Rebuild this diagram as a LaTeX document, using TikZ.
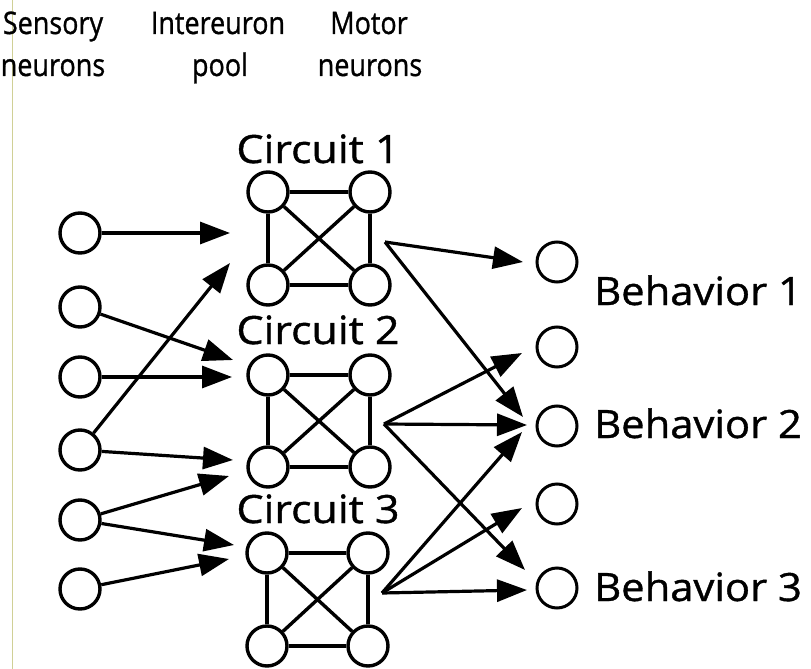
\documentclass[tikz,border=0pt]{standalone}
\usepackage{fontspec}
\setmainfont{Open Sans}
\newfontfamily\labelfont[FakeBold=1]{Open Sans}
\usetikzlibrary{arrows.meta}
\begin{document}
\begin{tikzpicture}[x=1pt,y=-1pt,
  neuron/.style={circle,draw,line width=3.4pt,minimum size=40pt,inner sep=0pt},
  motor/.style={circle,draw,line width=3pt,minimum size=40pt,inner sep=0pt},
  link/.style={line width=3.4pt},
  arr/.style={line width=3.2pt,-{Triangle[length=30pt,width=22pt]}},
  header/.style={inner sep=0pt,anchor=base,font=\labelfont\fontsize{31}{31}\selectfont},
  label/.style={inner sep=0pt,font=\labelfont\fontsize{39}{39}\selectfont}]
\useasboundingbox (0,0) rectangle (811,669);
% thin rule along the left edge
\draw[line width=1pt,color={rgb,255:red,208;green,208;blue,150}] (12.5,0) -- (12.5,669);

% column headings
\node[header] (h1) at (53,34) {\scalebox{0.87}[1]{Sensory}};
\node[header] (h2) at (53,76) {\scalebox{0.87}[1]{neurons}};
\node[header] (h3) at (218,34) {\scalebox{0.87}[1]{Intereuron}};
\node[header] (h4) at (220,76) {\scalebox{0.87}[1]{pool}};
\node[header] (h5) at (369,34) {\scalebox{0.87}[1]{Motor}};
\node[header] (h6) at (370,76) {\scalebox{0.87}[1]{neurons}};

% sensory neurons
\foreach \i/\y in {1/233,2/307,3/377,4/450,5/520,6/589}
  \node[neuron] (s\i) at (80,\y) {};

% interneuron circuits
\foreach \c/\yt/\yb/\xl/\xr in {1/192/285/268/370,2/375/467/268/370,3/553/646/267/368}{
  \node[neuron] (c\c1) at (\xl,\yt) {};
  \node[neuron] (c\c2) at (\xr,\yt) {};
  \node[neuron] (c\c3) at (\xl,\yb) {};
  \node[neuron] (c\c4) at (\xr,\yb) {};
  \draw[link] (c\c1) -- (c\c2);
  \draw[link] (c\c3) -- (c\c4);
  \draw[link] (c\c1) -- (c\c3);
  \draw[link] (c\c2) -- (c\c4);
  \draw[link] (c\c1) -- (c\c4);
  \draw[link] (c\c2) -- (c\c3);
}
\node[label,anchor=base] (l1) at (318,163) {\scalebox{1.1}[1]{Circuit 1}};
\node[label,anchor=base] (l2) at (318,344) {\scalebox{1.1}[1]{Circuit 2}};
\node[label,anchor=base] (l3) at (318,523) {\scalebox{1.1}[1]{Circuit 3}};

% motor neurons
\foreach \i/\y in {1/262,2/347,3/426,4/504,5/588}
  \node[motor] (m\i) at (557,\y) {};
\node[label,anchor=base west] (b1) at (594,305) {\scalebox{1.07}[1]{Behavior 1}};
\node[label,anchor=base west] (b2) at (594,438) {\scalebox{1.07}[1]{Behavior 2}};
\node[label,anchor=base west] (b3) at (594,601) {\scalebox{1.07}[1]{Behavior 3}};

% inputs into the pool
\coordinate (a1) at (230,233);
\coordinate (a2) at (233,360);
\coordinate (a3) at (232,377);
\coordinate (a4) at (230,263);
\coordinate (a5) at (233,460);
\coordinate (a6) at (229,476);
\coordinate (a7) at (234,545);
\coordinate (a8) at (229,559);
\draw[arr] (s1) -- (a1);
\draw[arr] (s2) -- (a2);
\draw[arr] (s3) -- (a3);
\draw[arr] (s4) -- (a4);
\draw[arr] (s4) -- (a5);
\draw[arr] (s5) -- (a6);
\draw[arr] (s5) -- (a7);
\draw[arr] (s6) -- (a8);

% outputs of the circuits
\coordinate (o1) at (385,242);
\coordinate (o2) at (384,424);
\coordinate (o3) at (382,593);
\coordinate (t1) at (523,262);
\coordinate (t2) at (523,417);
\coordinate (t3) at (522,353);
\coordinate (t4) at (527,425);
\coordinate (t5) at (525,570);
\coordinate (t6) at (522,432);
\coordinate (t7) at (522,508);
\coordinate (t8) at (527,590);
\draw[arr] (o1) -- (t1);
\draw[arr] (o1) -- (t2);
\draw[arr] (o2) -- (t3);
\draw[arr] (o2) -- (t4);
\draw[arr] (o2) -- (t5);
\draw[arr] (o3) -- (t6);
\draw[arr] (o3) -- (t7);
\draw[arr] (o3) -- (t8);
\end{tikzpicture}
\end{document}
